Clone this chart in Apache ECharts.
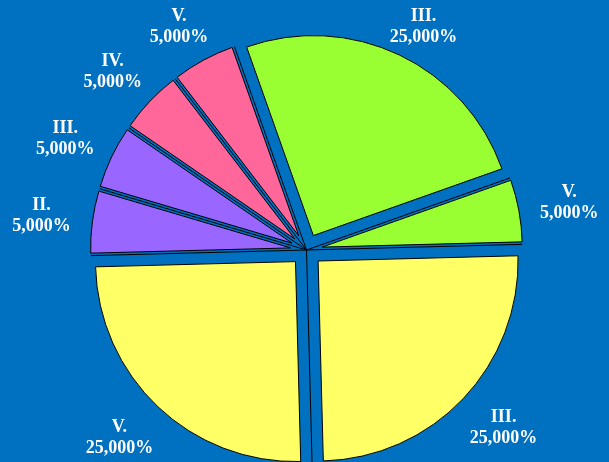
<!DOCTYPE html>
<html>
<head>
<meta charset="utf-8">
<script src="https://cdn.jsdelivr.net/npm/echarts@6/dist/echarts.min.js"></script>
<style>
html, body { margin: 0; padding: 0; background: #0070C0; }
#chart { width: 609px; height: 462px; }
</style>
</head>
<body>
<div id="chart"></div>
<script>
// ---- data (clockwise from ~3 o'clock) ----
const categories = ['III.', 'V.', 'II.', 'III.', 'IV.', 'V.', 'III.', 'V.'];
const values = [25, 25, 5, 5, 5, 5, 25, 5];
const sliceColors = ['#FFFF66', '#FFFF66', '#9966FF', '#9966FF', '#FF6699', '#FF6699', '#99FF33', '#99FF33'];

// ---- layout ----
const CX = 306.5, CY = 250, R = 200, START = 1.5, EXPLODE = 16;
const LABEL_R = 238;

const total = values.reduce((a, b) => a + b, 0);
const midAngles = [];
const boundaryLines = [];
(function () {
  let acc = 0;
  values.forEach(v => {
    const a0 = START - acc / total * 360;
    const a1 = START - (acc + v) / total * 360;
    midAngles.push((a0 + a1) / 2 * Math.PI / 180);
    boundaryLines.push([0, acc], [1, acc], '-');
    acc += v;
  });
})();

function pctText(v) {
  return (v / total * 100).toFixed(3).replace('.', ',') + '%';
}

const chart = echarts.init(document.getElementById('chart'), null, { renderer: 'canvas' });

const option = {
  backgroundColor: '#0070C0',
  animation: false,
  polar: { center: [CX, CY], radius: R + EXPLODE },
  angleAxis: { type: 'value', min: 0, max: total, startAngle: START, clockwise: true, show: false },
  radiusAxis: { type: 'value', min: 0, max: 1, show: false },
  series: [
    {
      // radial boundary lines of the unexploded pie
      type: 'line',
      coordinateSystem: 'polar',
      data: boundaryLines,
      connectNulls: false,
      showSymbol: false,
      symbol: 'none',
      silent: true,
      z: 0,
      lineStyle: { color: '#000', width: 1 }
    },
    {
      // label carrier (unexploded, invisible)
      type: 'pie',
      center: [CX, CY],
      radius: R,
      startAngle: START,
      clockwise: true,
      silent: true,
      avoidLabelOverlap: false,
      z: 1,
      data: values.map((v, i) => ({ name: categories[i], value: v })),
      itemStyle: { color: 'rgba(0,0,0,0)', borderWidth: 0 },
      emphasis: { disabled: true },
      label: {
        show: true,
        position: 'inside',
        formatter: p => p.name + '\n' + pctText(p.value),
        color: '#ffffff',
        fontFamily: "'Liberation Serif', 'Times New Roman', serif",
        fontWeight: 'bold',
        fontSize: 18,
        lineHeight: 21,
        align: 'center'
      },
      labelLine: { show: false },
      labelLayout: function (p) {
        const a = midAngles[p.dataIndex];
        const c = Math.cos(a), s = Math.sin(a);
        const w = p.labelRect.width, h = p.labelRect.height;
        return {
          x: CX + LABEL_R * c + w / 2 * c,
          y: Math.max(h / 2 + 6, CY - LABEL_R * s - h / 2 * s),
          align: 'center',
          verticalAlign: 'middle'
        };
      }
    },
    {
      // exploded slices
      type: 'pie',
      center: [CX, CY],
      radius: R,
      startAngle: START,
      clockwise: true,
      silent: true,
      z: 2,
      selectedMode: 'multiple',
      selectedOffset: EXPLODE,
      data: values.map((v, i) => ({
        name: categories[i],
        value: v,
        selected: true,
        itemStyle: { color: sliceColors[i] }
      })),
      itemStyle: { borderColor: '#000', borderWidth: 1 },
      select: { itemStyle: { borderColor: '#000', borderWidth: 1 } },
      emphasis: { disabled: true },
      label: { show: false },
      labelLine: { show: false }
    }
  ]
};

chart.setOption(option);
</script>
</body>
</html>
